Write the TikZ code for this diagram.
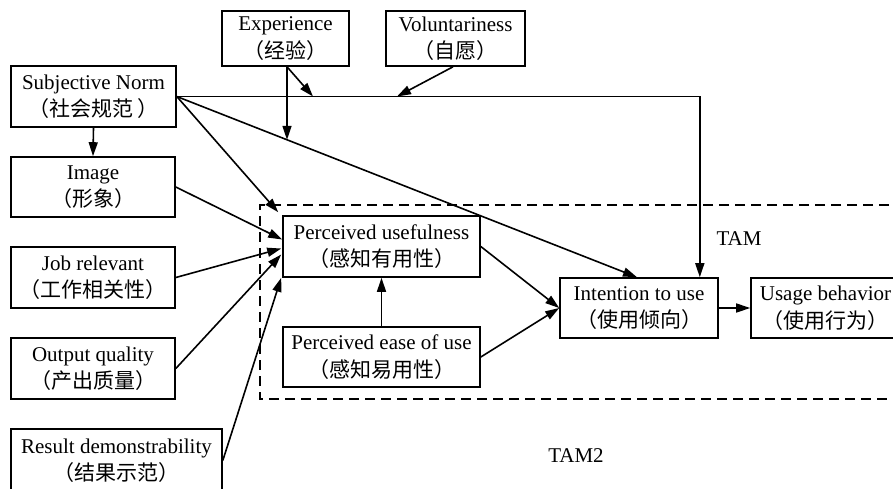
\documentclass[tikz,border=0pt]{standalone}
\usepackage{fontspec}
\setmainfont{Liberation Serif}
\newfontfamily\cjkfont{Noto Sans CJK SC}
\newcommand\zhtxt[1]{{\cjkfont #1}}
\usetikzlibrary{arrows.meta,calc}
\begin{document}
\begin{tikzpicture}[x=1pt,y=-1pt,
  box/.style={draw,line width=1.6pt,rectangle,inner sep=0pt,align=center,
    font=\fontsize{21}{27.5}\selectfont},
  arr/.style={line width=1.6pt,-{Triangle[length=14pt,width=9pt]}},
  lbl/.style={inner sep=0pt,font=\fontsize{21}{24}\selectfont}]
\useasboundingbox (0,0) rectangle (893,488);
\clip (0,0) rectangle (893,488);
\fill[white] (0,0) rectangle (893,488);
% dashed TAM frame
\draw[line width=1.6pt,dash pattern=on 10pt off 6pt] (905,205) -- (260,205) -- (260,399) -- (905,399);
% boxes
\node[box,minimum width=127pt,minimum height=55pt] (exp) at (285.5,38.5) {Experience\\\zhtxt{（经验）}};
\node[box,minimum width=139pt,minimum height=55pt] (vol) at (455.5,38.5) {Voluntariness\\\zhtxt{（自愿）}};
\node[box,minimum width=165pt,minimum height=61pt] (sn) at (93.5,96.5) {Subjective Norm\\\zhtxt{（社会规范 ）}};
\node[box,minimum width=164pt,minimum height=60pt] (img) at (93,187) {Image\\\zhtxt{（形象）}};
\node[box,minimum width=164pt,minimum height=61pt] (job) at (93,277.5) {Job relevant\\\zhtxt{（工作相关性）}};
\node[box,minimum width=164pt,minimum height=61pt] (out) at (93,368.5) {Output quality\\\zhtxt{（产出质量）}};
\node[box,minimum width=211pt,minimum height=63pt] (res) at (116.5,460.5) {Result demonstrability\\\zhtxt{（结果示范）}};
\node[box,minimum width=197pt,minimum height=61pt] (pu) at (381.5,246.5) {Perceived usefulness\\\zhtxt{（感知有用性）}};
\node[box,minimum width=197pt,minimum height=60pt] (peu) at (381.5,357) {Perceived ease of use\\\zhtxt{（感知易用性）}};
\node[box,minimum width=158pt,minimum height=60pt] (itu) at (639,308) {Intention to use\\\zhtxt{（使用倾向）}};
\node[box,minimum width=149pt,minimum height=60pt] (ub) at (825.5,308) {Usage behavior\\\zhtxt{（使用行为）}};
% labels
\node[lbl] (tam) at (739,239) {TAM};
\node[lbl] (tam2) at (576,456) {TAM2};
% moderation points
\coordinate (m1) at (313,96.5);
\coordinate (m3) at (397,96.5);
\coordinate (m2) at ($(sn.east)!0.2397!(itu.north)$);
% connectors
\draw[arr] (sn.south) -- (img.north);
\draw[arr] (sn.east) -| ([xshift=-19pt]itu.north east);
\draw[arr] (sn.east) -- ([xshift=-2pt]itu.north);
\draw[arr] (sn.east) -- ($(pu.north west)+(-4,-3)$);
\draw[arr] ([xshift=1.5pt]exp.south) -- (m1);
\draw[arr] ([xshift=1.5pt]exp.south) -- ([xshift=1.5pt]exp.south |- m2);
\draw[arr] ([xshift=-2.5pt]vol.south) -- (m3);
\draw[arr] (img.east) -- ($(pu.west)+(0,-7)$);
\draw[arr] (job.east) -- ($(pu.west)+(-1,2)$);
\draw[arr] (out.east) -- ($(pu.west)+(-1,8)$);
\draw[arr] (res.east) -- ($(pu.south west)+(-1,0)$);
\draw[arr] (peu.north) -- (pu.south);
\draw[arr] (pu.east) -- (itu.west);
\draw[arr] (peu.east) -- (itu.west);
\draw[arr] (itu.east) -- (ub.west);
\end{tikzpicture}
\end{document}
